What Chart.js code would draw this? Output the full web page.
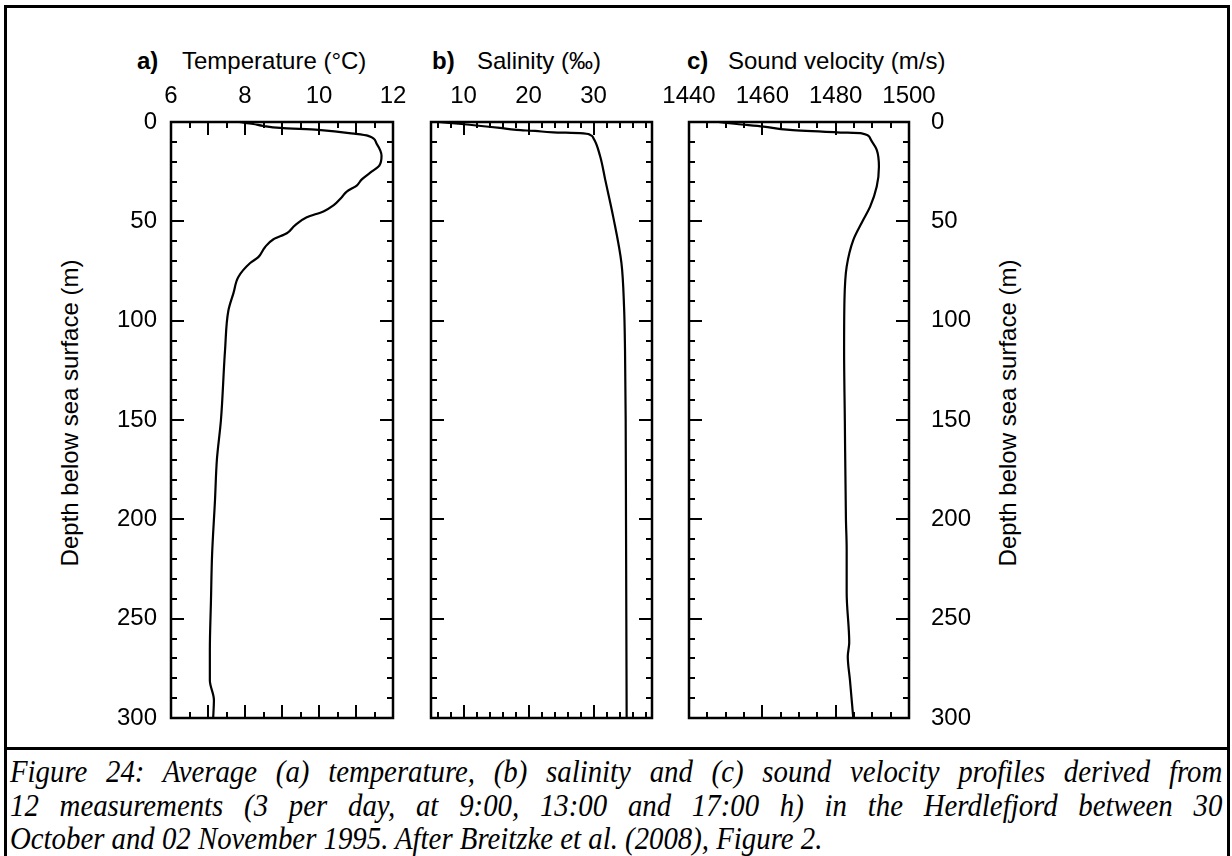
<!DOCTYPE html>
<html>
<head>
<meta charset="utf-8">
<script src="https://cdn.jsdelivr.net/npm/chart.js@4.4.1/dist/chart.umd.min.js"></script>
<style>
  body { margin: 0; background: #fff; }
  #fig { position: relative; width: 1232px; height: 856px; overflow: hidden; font-family: "Liberation Sans", Arial, sans-serif; color: #000; }
  #box { position: absolute; left: 4px; top: 5px; width: 1220px; height: 900px; border: 3px solid #000; }
  #rule { position: absolute; left: 4px; top: 747px; width: 1226px; height: 3px; background: #000; }
  canvas { position: absolute; }
  .hd { position: absolute; top: 47px; font-size: 24px; line-height: 28px; white-space: nowrap; }
  .ytitle { position: absolute; top: 413px; font-size: 24px; white-space: nowrap; transform: translate(-50%, -50%) rotate(-90deg); }
  #caption { position: absolute; left: 10px; top: 755px; width: 1347px; transform: scaleX(0.9); transform-origin: 0 0; font: italic 32px/33.5px "Liberation Serif", "Times New Roman", serif; }
  #caption .ln { text-align: justify; text-align-last: justify; white-space: nowrap; }
  #caption .ln.last { text-align-last: left; }
</style>
</head>
<body>
<div id="fig">
  <div id="box"></div>
  <div id="rule"></div>

  <span class="hd" style="left:137px"><b>a)</b></span>
  <span class="hd" style="left:182px">Temperature (°C)</span>
  <span class="hd" style="left:432px"><b>b)</b></span>
  <span class="hd" style="left:477px">Salinity (‰)</span>
  <span class="hd" style="left:687px"><b>c)</b></span>
  <span class="hd" style="left:728px">Sound velocity (m/s)</span>

  <div class="ytitle" style="left:70px">Depth below sea surface (m)</div>
  <div class="ytitle" style="left:1008px">Depth below sea surface (m)</div>

  <canvas id="chartA" width="370" height="670" style="left:40px;top:70px"></canvas>
  <canvas id="chartB" width="250" height="670" style="left:420px;top:70px"></canvas>
  <canvas id="chartC" width="350" height="670" style="left:650px;top:70px"></canvas>

  <div id="caption">
    <div class="ln">Figure 24: Average (a) temperature, (b) salinity and (c) sound velocity profiles derived from</div>
    <div class="ln">12 measurements (3 per day, at 9:00, 13:00 and 17:00 h) in the Herdlefjord between 30</div>
    <div class="ln last">October and 02 November 1995. After Breitzke et al. (2008), Figure 2.</div>
  </div>
</div>

<script>
// depth (m) shared tick labels
const depthLabels = [0, 50, 100, 150, 200, 250, 300];

// a) temperature profile
const depthA = [0, 1, 2, 3, 4, 6, 7, 11, 17, 22, 25, 29, 32, 35, 38, 42, 45, 48, 52, 56, 59, 63, 68, 71, 78, 86, 95, 115, 150, 170, 190, 218, 241, 266, 281, 291, 300];
const tempA = [7.84, 8.22, 8.5, 8.95, 9.98, 11.0, 11.33, 11.56, 11.69, 11.63, 11.42, 11.15, 11.02, 10.75, 10.61, 10.39, 10.12, 9.67, 9.35, 9.13, 8.77, 8.54, 8.36, 8.14, 7.82, 7.69, 7.55, 7.46, 7.35, 7.24, 7.19, 7.11, 7.08, 7.05, 7.05, 7.16, 7.14];
const tempLabels = [6, 8, 10, 12];

// b) salinity profile
const depthB = [0, 1, 3, 4, 4.5, 5.2, 5.6, 6.5, 8.2, 17, 29, 48, 71, 93, 115, 150, 200, 250, 300];
const salB = [6.1, 9.7, 15.6, 18.2, 21.0, 23.8, 27.9, 29.5, 30.0, 31.0, 31.8, 33.05, 34.3, 34.7, 34.85, 34.95, 35.0, 35.05, 35.1];
const salLabels = [10, 20, 30];

// c) sound velocity profile
const depthC = [0, 1, 2.3, 4, 5.2, 5.7, 8.2, 14, 22.5, 32.5, 42.6, 49.3, 59.4, 72.8, 89.6, 115, 150, 200, 215, 237, 262, 269, 281, 300];
const velC = [1448.0, 1453.0, 1460.3, 1467.5, 1480.3, 1487.1, 1489.4, 1491.2, 1491.8, 1491.2, 1489.4, 1487.5, 1484.8, 1483.0, 1482.4, 1482.3, 1482.5, 1482.8, 1483.0, 1483.0, 1483.7, 1483.3, 1483.9, 1484.8];
const velLabels = [1440, 1460, 1480, 1500];

function steps(from, to, step) {
  const out = [];
  for (let v = from; v <= to + 1e-9; v += step) out.push(+v.toFixed(3));
  return out;
}

// inward tick marks on all four sides plus the closed frame
const frameTicks = {
  id: 'frameTicks',
  afterDatasetsDraw(chart, args, opts) {
    const { ctx, chartArea: a, scales: { x, y } } = chart;
    ctx.save();
    ctx.strokeStyle = '#000';
    ctx.lineWidth = 2;
    ctx.beginPath();
    [[opts.xMinor, 6], [opts.xMajor, 13]].forEach(([vals, len]) => {
      vals.forEach(v => {
        const px = Math.round(x.getPixelForValue(v));
        ctx.moveTo(px, a.top); ctx.lineTo(px, a.top + len);
        ctx.moveTo(px, a.bottom); ctx.lineTo(px, a.bottom - len);
      });
    });
    [[opts.yMinor, 6], [opts.yMajor, 13]].forEach(([vals, len]) => {
      vals.forEach(v => {
        const py = Math.round(y.getPixelForValue(v));
        ctx.moveTo(a.left, py); ctx.lineTo(a.left + len, py);
        ctx.moveTo(a.right, py); ctx.lineTo(a.right - len, py);
      });
    });
    ctx.stroke();
    ctx.lineWidth = 2.5;
    ctx.strokeRect(a.left, a.top, a.right - a.left, a.bottom - a.top);
    ctx.restore();
  }
};

const tickFont = { family: "'Liberation Sans', Arial, sans-serif", size: 24, lineHeight: 1 };
const plain = v => String(v);

function profile(canvasId, depths, values, xr, opt) {
  const xScale = {
    type: 'linear', position: 'top', min: xr.min, max: xr.max,
    afterBuildTicks: s => { s.ticks = xr.labels.map(v => ({ value: v })); },
    ticks: { font: tickFont, color: '#000', padding: 14, maxRotation: 0, autoSkip: false, callback: plain },
    grid: { display: false, drawTicks: false },
    border: { display: false },
    afterFit: s => { s.height = 52; s.paddingLeft = 0; s.paddingRight = 0; }
  };
  const yScale = {
    type: 'linear', reverse: true, min: 0, max: 300,
    position: opt.yPos || 'left',
    display: !!opt.yPos,
    afterBuildTicks: s => { s.ticks = depthLabels.map(v => ({ value: v })); },
    ticks: { font: tickFont, color: '#000', padding: opt.yPad || 8, autoSkip: false, callback: plain },
    grid: { display: false, drawTicks: false },
    border: { display: false },
    afterFit: s => { if (opt.yWidth) s.width = opt.yWidth; s.paddingTop = 0; s.paddingBottom = 0; }
  };
  return new Chart(document.getElementById(canvasId), {
    type: 'line',
    data: {
      datasets: [{
        data: depths.map((d, i) => ({ x: values[i], y: d })),
        borderColor: '#000',
        borderWidth: 2.2,
        pointRadius: 0,
        cubicInterpolationMode: 'monotone'
      }]
    },
    options: {
      indexAxis: 'y',
      responsive: false,
      animation: false,
      layout: { padding: opt.padding },
      plugins: {
        legend: { display: false },
        tooltip: { enabled: false },
        frameTicks: {
          xMajor: xr.major, xMinor: xr.minor,
          yMajor: steps(0, 300, 50), yMinor: steps(10, 290, 10)
        }
      },
      scales: { x: xScale, y: yScale }
    },
    plugins: [frameTicks]
  });
}

profile('chartA', depthA, tempA,
  { min: 6, max: 12, labels: tempLabels, major: steps(6, 12, 1), minor: steps(6.5, 11.5, 1) },
  { yPos: 'left', yWidth: 131, yPad: 14, padding: { left: 0, right: 17, top: 0, bottom: 22 } });

profile('chartB', depthB, salB,
  { min: 5, max: 39, labels: salLabels, major: [10, 20, 30], minor: steps(6, 38, 2) },
  { padding: { left: 11, right: 18, top: 0, bottom: 22 } });

profile('chartC', depthC, velC,
  { min: 1440, max: 1500, labels: velLabels, major: [1460, 1480], minor: steps(1445, 1495, 5) },
  { yPos: 'right', yWidth: 91, yPad: 22, padding: { left: 39, right: 0, top: 0, bottom: 22 } });
</script>
</body>
</html>
